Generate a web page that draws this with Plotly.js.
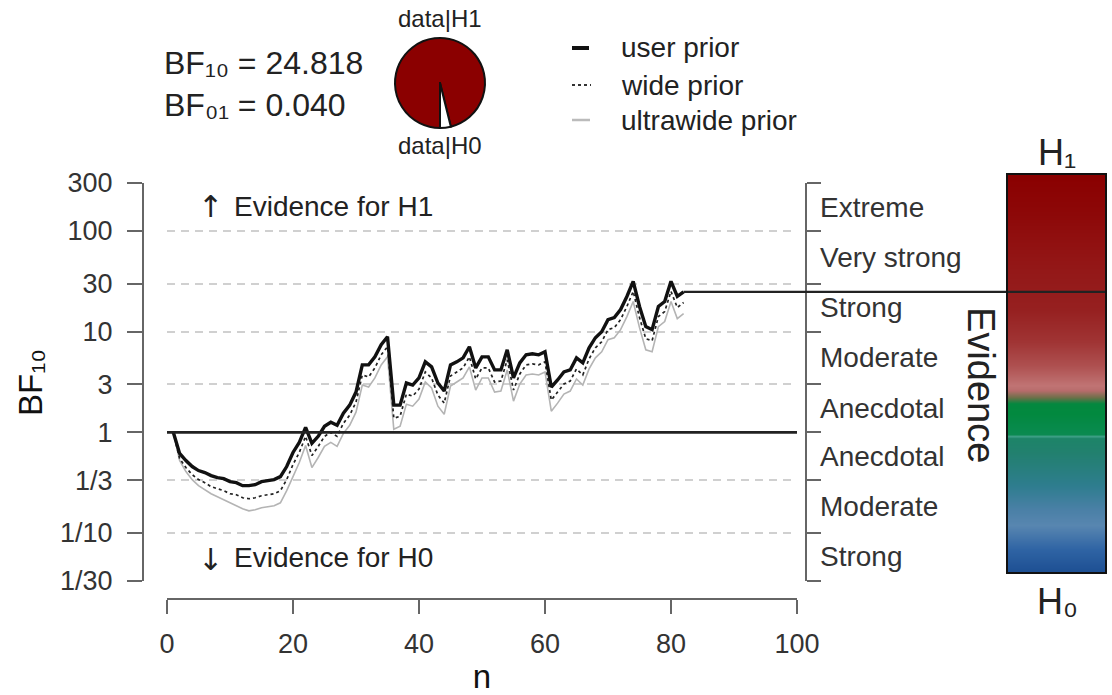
<!DOCTYPE html>
<html><head><meta charset="utf-8">
<script src="https://cdn.plot.ly/plotly-3.0.1.min.js"></script>
<style>html,body{margin:0;padding:0;background:#fff}#chart{width:1112px;height:695px}</style>
</head><body><div id="chart"></div>
<script>
// ---------- data ----------
const nObs = [1,2,3,4,5,6,7,8,9,10,11,12,13,14,15,16,17,18,19,20,21,22,23,24,25,26,27,28,29,30,
31,32,33,34,35,36,37,38,39,40,41,42,43,44,45,46,47,48,49,50,51,52,53,54,55,56,57,58,59,60,
61,62,63,64,65,66,67,68,69,70,71,72,73,74,75,76,77,78,79,80,81,82];
// log10(BF10)
const userLog10BF = [0,-0.21,-0.28,-0.34,-0.38,-0.40,-0.43,-0.45,-0.46,-0.49,
-0.50,-0.53,-0.53,-0.52,-0.49,-0.48,-0.47,-0.44,-0.34,-0.20,
-0.10,0.05,-0.11,-0.04,0.06,0.10,0.07,0.19,0.27,0.40,
0.67,0.67,0.75,0.87,0.95,0.27,0.27,0.49,0.47,0.54,
0.70,0.65,0.49,0.41,0.67,0.70,0.74,0.85,0.64,0.75,
0.75,0.62,0.62,0.82,0.54,0.69,0.77,0.78,0.77,0.80,
0.45,0.52,0.60,0.62,0.74,0.69,0.84,0.94,1.00,1.12,
1.14,1.22,1.35,1.50,1.25,1.05,1.02,1.25,1.30,1.50,
1.35,1.395];
const wideLog10BF = [0,-0.26,-0.35,-0.42,-0.47,-0.50,-0.54,-0.56,-0.58,-0.61,
-0.62,-0.65,-0.66,-0.65,-0.63,-0.62,-0.61,-0.58,-0.47,-0.32,
-0.20,-0.04,-0.23,-0.14,-0.04,0.00,-0.04,0.09,0.17,0.30,
0.57,0.55,0.64,0.77,0.85,0.14,0.16,0.38,0.36,0.43,
0.60,0.54,0.37,0.29,0.56,0.60,0.64,0.75,0.53,0.64,
0.64,0.50,0.51,0.72,0.42,0.58,0.67,0.68,0.67,0.70,
0.32,0.40,0.48,0.51,0.63,0.57,0.73,0.84,0.90,1.02,
1.04,1.12,1.25,1.40,1.14,0.93,0.91,1.15,1.20,1.40,
1.24,1.29];
const ultrawideLog10BF = [0,-0.28,-0.39,-0.47,-0.53,-0.57,-0.61,-0.64,-0.67,-0.70,
-0.73,-0.76,-0.78,-0.77,-0.75,-0.74,-0.73,-0.70,-0.58,-0.44,
-0.30,-0.13,-0.35,-0.25,-0.14,-0.10,-0.14,-0.01,0.07,0.20,
0.47,0.45,0.54,0.67,0.75,0.03,0.06,0.28,0.26,0.33,
0.50,0.44,0.26,0.18,0.46,0.50,0.54,0.65,0.42,0.54,
0.54,0.40,0.41,0.62,0.31,0.48,0.57,0.58,0.57,0.60,
0.21,0.29,0.38,0.41,0.53,0.47,0.63,0.74,0.80,0.92,
0.94,1.02,1.15,1.30,1.04,0.82,0.80,1.05,1.10,1.30,
1.13,1.18];
const bf10 = 24.818;
const bf01 = 0.040;
const yTickVals = [1/30, 1/10, 1/3, 1, 3, 10, 30, 100, 300];
const yTickText = ['1/30', '1/10', '1/3', '1', '3', '10', '30', '100', '300'];
const xTickVals = [0, 20, 40, 60, 80, 100];
const evidenceLabels = ['Strong', 'Moderate', 'Anecdotal', 'Anecdotal', 'Moderate', 'Strong', 'Very strong', 'Extreme'];
const seriesNames = ['user prior', 'wide prior', 'ultrawide prior'];
// evidence colour bar (0 = H0 bottom, 1 = H1 top)
const barStops = [0, 0.06, 0.12, 0.16, 0.22, 0.30, 0.338, 0.343, 0.348, 0.40, 0.425, 0.44, 0.458, 0.47, 0.52, 0.58, 0.66, 0.78, 0.90, 1];
const barColors = ['#1c4e92', '#2f64a4', '#5886b0', '#4a80a6', '#2e7d8e', '#22806f', '#1d8468', '#3fa087', '#0a8a50', '#02893f', '#04883f', '#6a7048', '#b86c6c', '#c07474', '#ae5050', '#a03434', '#962020', '#931616', '#8d0808', '#8a0000'];

// ---------- helpers ----------
const W = 1112, H = 695;
const px = x => x / W;
const py = y => 1 - y / H;
const FONT = 'Liberation Sans, Arial, Helvetica, DejaVu Sans, sans-serif';
const toBF = arr => arr.map(v => Math.pow(10, v));
const yRange = [Math.log10(1/30), Math.log10(300)];
const plotL = 167, plotR = 797, barL = 1007, barR = 1106;
const ext = 100 * (barR - plotL) / (plotR - plotL);

const traces = [
  {type: 'scatter', mode: 'lines', name: seriesNames[2], x: nObs, y: toBF(ultrawideLog10BF),
   line: {color: '#b4b4b4', width: 1.6}, xaxis: 'x', yaxis: 'y', hoverinfo: 'skip', showlegend: false},
  {type: 'scatter', mode: 'lines', name: seriesNames[1], x: nObs, y: toBF(wideLog10BF),
   line: {color: '#222', width: 1.7, dash: 'dot'}, xaxis: 'x', yaxis: 'y', hoverinfo: 'skip', showlegend: false},
  {type: 'scatter', mode: 'lines', name: seriesNames[0], x: nObs, y: toBF(userLog10BF),
   line: {color: '#111', width: 3.4}, xaxis: 'x', yaxis: 'y', hoverinfo: 'skip', showlegend: false},
  {type: 'scatter', mode: 'lines', x: [0, 100], y: [1, 1], line: {color: '#222', width: 2.6},
   xaxis: 'x', yaxis: 'y2', hoverinfo: 'skip', showlegend: false},
  {type: 'heatmap', z: [[0], [1]], x: [0], y: [0, 1], zmin: 0, zmax: 1, zsmooth: 'best',
   colorscale: barStops.map((s, i) => [s, barColors[i]]), showscale: false, hoverinfo: 'skip',
   xaxis: 'x3', yaxis: 'y3'},
  {type: 'scatter', mode: 'lines', x: [nObs[nObs.length - 1], ext], y: [bf10, bf10],
   line: {color: '#222', width: 2.2}, xaxis: 'x4', yaxis: 'y4', hoverinfo: 'skip', showlegend: false},
  {type: 'pie', values: [bf10, 1], labels: ['data|H1', 'data|H0'], sort: false,
   direction: 'clockwise', rotation: 180, textinfo: 'none', hoverinfo: 'skip', showlegend: false,
   marker: {colors: ['#8b0000', '#ffffff'], line: {color: '#111', width: 2}},
   domain: {x: [px(395), px(485)], y: [py(128), py(38)]}}
];

const annotations = [];
// right-hand evidence labels
for (let i = 0; i < evidenceLabels.length; i++) {
  annotations.push({text: evidenceLabels[i], xref: 'paper', yref: 'y',
    x: px(818), xanchor: 'left', yanchor: 'middle',
    y: (Math.log10(yTickVals[i]) + Math.log10(yTickVals[i + 1])) / 2,
    showarrow: false, font: {family: FONT, size: 28, color: '#333'}});
}
const ann = (text, x, y, size, opts = {}) => annotations.push(Object.assign({
  text, xref: 'paper', yref: 'paper', x: px(x), y: py(y), showarrow: false,
  xanchor: 'left', yanchor: 'middle', font: {family: FONT, size, color: '#222'}}, opts));
const ARROWFONT = {family: 'DejaVu Sans, sans-serif', size: 30, color: '#222'};
ann('\u2191', 210, 206, 30, {xanchor: 'center', font: ARROWFONT});
ann('Evidence for H1', 232, 207, 28);
ann('\u2193', 210, 559, 30, {xanchor: 'center', font: ARROWFONT});
ann('Evidence for H0', 232, 557, 28);
ann('BF\u2081\u2080 = ' + bf10.toFixed(3), 162, 63, 32);
ann('BF\u2080\u2081 = ' + bf01.toFixed(3), 162, 105, 32);
ann('data|H1', 440, 18, 24, {xanchor: 'center'});
ann('data|H0', 440, 146, 24, {xanchor: 'center'});
ann(seriesNames[0], 619, 48, 28);
ann(seriesNames[1], 619, 85, 28);
ann(seriesNames[2], 619, 120, 28);
ann('Evidence', 981, 385, 38, {xanchor: 'center', textangle: 90});
ann('H\u2081', 1057, 152, 36, {xanchor: 'center'});
ann('H\u2080', 1057, 601, 36, {xanchor: 'center'});
ann('BF\u2081\u2080', 30, 383, 33, {xanchor: 'center', textangle: -90, font: {family: FONT, size: 33, color: '#111'}});

const shapes = [
  {type: 'rect', xref: 'paper', yref: 'paper', x0: px(barL), x1: px(barR), y0: py(573), y1: py(174),
   line: {color: '#111', width: 2}},
  {type: 'line', xref: 'paper', yref: 'paper', x0: px(572), x1: px(589), y0: py(48), y1: py(48),
   line: {color: '#111', width: 4}},
  {type: 'line', xref: 'paper', yref: 'paper', x0: px(572), x1: px(591), y0: py(85), y1: py(85),
   line: {color: '#333', width: 2, dash: 'dot'}},
  {type: 'line', xref: 'paper', yref: 'paper', x0: px(572), x1: px(590), y0: py(120), y1: py(120),
   line: {color: '#bbb', width: 2.5}}
];

const axisCommon = {linecolor: '#666', linewidth: 2, tickcolor: '#666', tickwidth: 2,
  zeroline: false, tickfont: {family: FONT, size: 27, color: '#333'}, fixedrange: true};

const layout = {
  width: W, height: H, margin: {l: 0, r: 0, t: 0, b: 0},
  paper_bgcolor: '#fff', plot_bgcolor: 'rgba(0,0,0,0)', showlegend: false,
  font: {family: FONT},
  xaxis: Object.assign({}, axisCommon, {domain: [px(plotL), px(plotR)], range: [0, 100],
    anchor: 'free', position: py(599), showline: true, ticks: 'outside', ticklen: 14,
    tickvals: xTickVals, showgrid: false, ticklabelstandoff: 7,
    title: {text: 'n', font: {family: FONT, size: 33, color: '#111'}, standoff: 22}}),
  yaxis: Object.assign({}, axisCommon, {domain: [py(581), py(183)], type: 'log', range: yRange,
    anchor: 'free', position: px(143), showline: true, ticks: 'outside', ticklen: 15,
    tickvals: yTickVals, ticktext: yTickText, showgrid: true, gridcolor: '#d0d0d0',
    gridwidth: 1.8, griddash: '8px,6px', ticklabelstandoff: 9}),
  yaxis2: Object.assign({}, axisCommon, {overlaying: 'y', side: 'right', type: 'log', range: yRange,
    anchor: 'free', position: px(806), showline: true, ticks: 'outside', ticklen: 14,
    tickvals: yTickVals, showticklabels: false, showgrid: false}),
  xaxis3: {domain: [px(barL), px(barR)], range: [-0.5, 0.5], visible: false, anchor: 'y3', fixedrange: true},
  yaxis3: {domain: [py(573), py(174)], range: [0, 1], visible: false, anchor: 'x3', fixedrange: true},
  xaxis4: {domain: [px(plotL), px(barR)], range: [0, ext], visible: false, anchor: 'y4', fixedrange: true},
  yaxis4: {domain: [py(581), py(183)], type: 'log', range: yRange, visible: false, anchor: 'x4', fixedrange: true},
  annotations, shapes
};

Plotly.newPlot('chart', traces, layout, {staticPlot: true, displayModeBar: false});
</script></body></html>
